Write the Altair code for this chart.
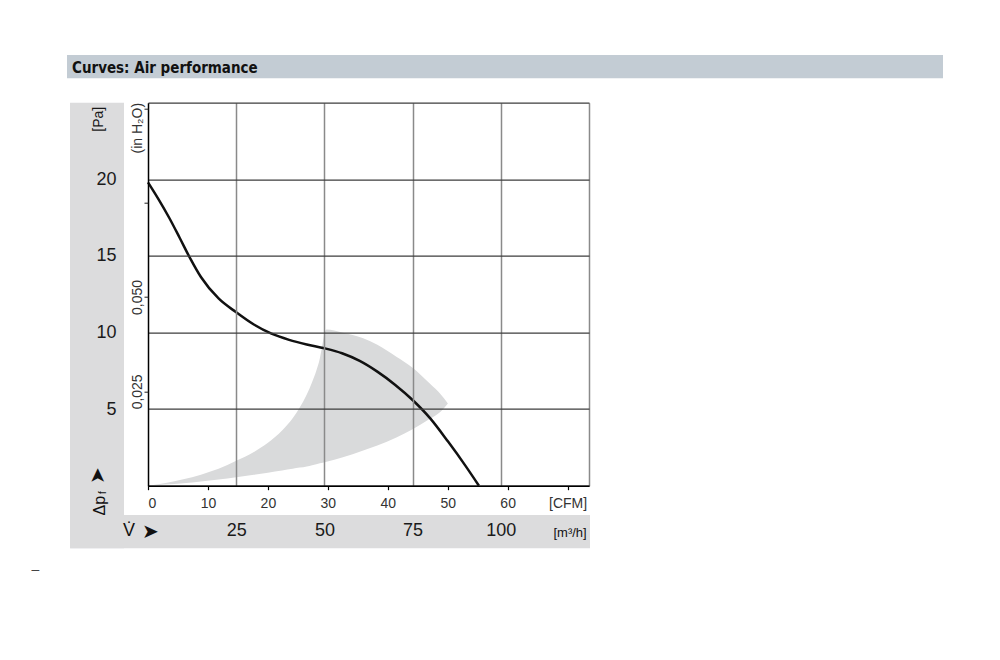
import altair as alt
import pandas as pd

# ---------------- data ----------------
# Fan curve: volume flow [m³/h] vs static pressure [Pa]
curve_flow = [0, 3, 6, 9, 12, 15, 20, 25, 30, 35, 40, 45, 50, 55, 60, 65, 70, 75, 80, 85, 90, 93.8]
curve_pa = [19.8, 18.69, 17.49, 16.17, 14.82, 13.62, 12.22, 11.32, 10.52, 9.92, 9.52, 9.22, 8.97,
            8.645, 8.145, 7.445, 6.595, 5.595, 4.395, 2.895, 1.295, 0.0]

# Grey operating range (lower / upper boundary in Pa)
band_flow = [0, 5, 10, 15, 20, 25, 30, 34, 38, 41, 43, 45, 46.5, 47.7, 48.7, 49.5, 50.1, 50.6,
             55, 61, 65, 70.4, 75, 79.8, 83, 85]
band_lo = [0, 0.07, 0.16, 0.27, 0.40, 0.55, 0.71, 0.85, 0.99, 1.1, 1.18, 1.26, 1.34, 1.405, 1.46,
           1.505, 1.535, 1.56, 1.84, 2.3, 2.63, 3.15, 3.68, 4.35, 4.85, 5.37]
band_hi = [0, 0.18, 0.42, 0.72, 1.1, 1.62, 2.2, 2.8, 3.6, 4.4, 5.1, 5.95, 6.75, 7.5, 8.3, 9.3, 10.0, 10.2,
           10.0, 9.62, 9.2, 8.42, 7.7, 6.68, 5.95, 5.37]

flow_ticks = [25, 50, 75, 100, 125]          # m³/h grid
pa_ticks = [0, 5, 10, 15, 20, 25]             # Pa grid
cfm_ticks = [0, 10, 20, 30, 40, 50, 60, 70]   # CFM secondary axis
h2o_ticks = [0.025, 0.05, 0.075, 0.1]         # in H2O secondary axis
M3H_PER_CFM = 1.699

curve_df = pd.DataFrame({"flow": curve_flow, "pa": curve_pa})
band_df = pd.DataFrame({"flow": band_flow, "lo": band_lo, "hi": band_hi})
h2o_df = pd.DataFrame({"v": [0, 0.1]})
one = pd.DataFrame({"a": [0]})

FONT = "Liberation Sans"
NARROW = "'DejaVu Sans Condensed', 'Liberation Sans', sans-serif"

xscale = alt.Scale(domain=[0, 125], nice=False, zero=True)

# ---------------- decorations ----------------
title_bar = alt.Chart(one).mark_rect(color="#c3ccd4").encode(
    x=alt.value(-81), x2=alt.value(795), y=alt.value(-47.7), y2=alt.value(-24.4))
title_txt = alt.Chart(one).mark_text(
    text="Curves: Air performance", font=NARROW, fontSize=15, fontWeight="bold",
    align="left", baseline="alphabetic", color="#111111").encode(
    x=alt.value(-76), y=alt.value(-30))
panel_left = alt.Chart(one).mark_rect(color="#dcdcdd").encode(
    x=alt.value(-78), x2=alt.value(-24), y=alt.value(0), y2=alt.value(445.6))
panel_bottom = alt.Chart(one).mark_rect(color="#dcdcdd").encode(
    x=alt.value(-78), x2=alt.value(442), y=alt.value(412.3), y2=alt.value(445.6))

# ---------------- data layers ----------------
band = alt.Chart(band_df).mark_area(color="#d9dadb", interpolate="monotone").encode(
    x=alt.X("flow:Q", scale=xscale, axis=alt.Axis(
        values=flow_ticks, orient="bottom", grid=True, gridColor="#8a8a8a", gridWidth=1.5,
        ticks=False, domain=False, title=None,
        labelExpr="datum.value == 125 ? '' : datum.label",
        labelFont=FONT, labelFontSize=18, labelColor="#1a1a1a", labelPadding=36,
        labelBaseline="top", zindex=1)),
    y=alt.Y("lo:Q", scale=alt.Scale(domain=[0, 25], nice=False), axis=alt.Axis(
        values=pa_ticks, orient="left", grid=True, gridColor="#3c3c3c", gridWidth=1.3,
        ticks=False, domain=True, domainColor="#000000", domainWidth=1.5,
        labelExpr="(datum.value == 0 || datum.value == 25) ? '' : datum.label",
        labelFont=FONT, labelFontSize=18, labelColor="#1a1a1a", labelPadding=32,
        labelAlign="right", labelBaseline="middle",
        title="[Pa]", titleFont=FONT, titleFontSize=14, titleFontWeight="normal",
        titleColor="#1a1a1a", titleAngle=270, titleX=-50, titleY=16,
        titleAlign="center", titleBaseline="middle", zindex=1)),
    y2="hi:Q",
)

curve = alt.Chart(curve_df).mark_line(color="#111111", strokeWidth=2.5, interpolate="monotone").encode(
    x=alt.X("flow:Q", scale=xscale, axis=alt.Axis(
        values=[c * M3H_PER_CFM for c in cfm_ticks], orient="bottom", grid=False,
        ticks=True, tickSize=4, tickColor="#000000", tickWidth=1.2,
        domain=True, domainColor="#000000", domainWidth=1.5, title=None,
        labelExpr="datum.value > 118 ? '[CFM]' : format(datum.value / 1.699, '.0f')",
        labelFont=FONT, labelFontSize=14, labelColor="#333333", labelPadding=7, zindex=1)),
    y=alt.Y("pa:Q", scale=alt.Scale(domain=[0, 25], nice=False), axis=None),
)

h2o = alt.Chart(h2o_df).mark_point(opacity=0).encode(
    y=alt.Y("v:Q", scale=alt.Scale(domain=[0, 0.1015], nice=False), axis=alt.Axis(
        values=h2o_ticks, orient="left", grid=False, domain=False,
        ticks=True, tickSize=4, tickColor="#222222", tickWidth=1,
        labelAngle=270, labelAlign="center", labelBaseline="middle", labelPadding=7,
        labelExpr="datum.value == 0.025 ? '0,025' : (datum.value == 0.05 ? '0,050' : '')",
        labelFont=FONT, labelFontSize=14, labelColor="#333333",
        title="(in H₂O)", titleFont=FONT, titleFontSize=14, titleFontWeight="normal",
        titleColor="#333333", titleAngle=270, titleX=-11, titleY=25,
        titleAlign="center", titleBaseline="middle", zindex=1)),
)

# ---------------- axis symbols ----------------
def txt(t, x, y, size, angle=0, align="center", color="#111111"):
    return alt.Chart(one).mark_text(text=t, font=FONT, fontSize=size, angle=angle,
                                    align=align, baseline="middle", color=color).encode(
        x=alt.value(x), y=alt.value(y))

sym_dp = txt("Δp", -48, 403, 16, angle=270)
sym_f = txt("f", -45, 389.8, 10, angle=270)
sym_up = txt("➤", -50, 373, 20, angle=270)
sym_v = txt("V̇", -19, 428.8, 18)
sym_right = txt("➤", 2, 429.3, 20)
unit_m3h = txt("[m³/h]", 438.7, 430.5, 13, align="right")
dash = txt("–", -112.5, 467.3, 14, color="#444444")

chart = alt.layer(
    title_bar, panel_left, panel_bottom, band, curve, h2o,
    title_txt, sym_dp, sym_f, sym_up, sym_v, sym_right, unit_m3h, dash,
).resolve_scale(y="independent").resolve_axis(x="independent").properties(
    width=441, height=383,
    autosize=alt.AutoSizeParams(type="none"),
    padding={"left": 140, "top": 94.7, "right": 400, "bottom": 120},
    background="white",
).configure_view(strokeWidth=0)

chart.save("out.html", embed_options={"renderer": "svg", "actions": False})
